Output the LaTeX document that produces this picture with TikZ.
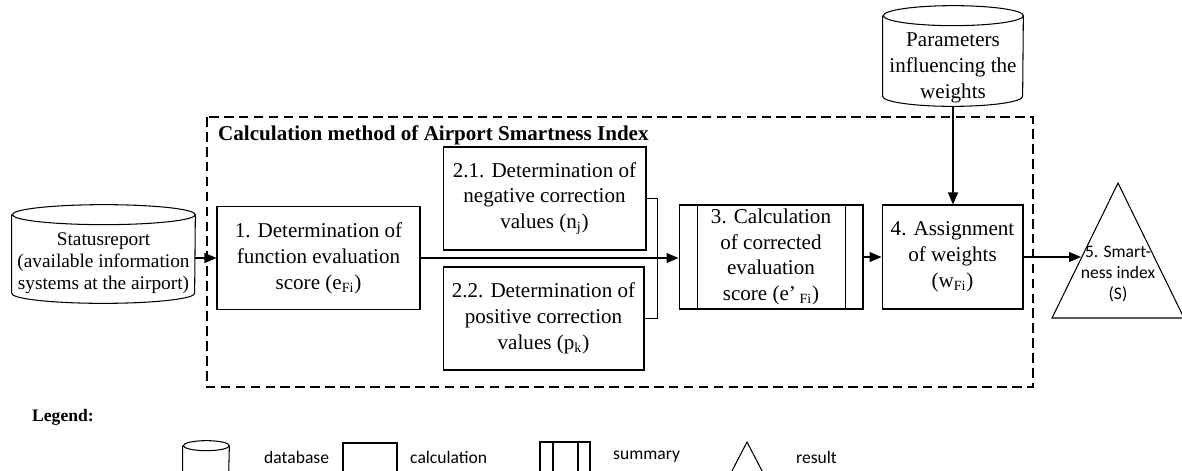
\documentclass[tikz,border=0pt]{standalone}
\usepackage{fontspec}
\setmainfont{Liberation Serif}
\setsansfont{Carlito}
\usetikzlibrary{arrows.meta,positioning,calc}
% outline of a database (cylinder) round a named node
\newcommand{\dbshape}[3]{%
\draw[line width=.6pt] ([yshift=-#3]#1.north west) -- ([yshift=#3]#1.south west)
  arc[start angle=180,end angle=360,x radius=#2,y radius=#3]
  -- ([yshift=-#3]#1.north east)
  arc[start angle=0,end angle=360,x radius=#2,y radius=#3];}

\begin{document}
\begin{tikzpicture}
[x=0.02cm,y=0.02cm,
cbox/.style={draw,line width=.6pt,inner sep=0pt,align=center,
  font=\fontsize{12}{14.7}\selectfont},
db/.style={inner sep=0pt},
dbtext/.style={align=center},
lbl/.style={anchor=west,font=\sffamily\fontsize{10}{12}\selectfont},
arr/.style={line width=.6pt,-{Triangle[length=0.24cm,width=0.2cm]}},
line/.style={line width=.6pt},
frame/.style={line width=.6pt,dash pattern=on 5.5pt off 3pt}]
\useasboundingbox (0,0) rectangle (1182,-470);
%% Method frame
\draw[frame] (207,-117) rectangle (1033,-387);
\node[anchor=west,font=\bfseries\fontsize{12}{14}\selectfont] (title) at (212,-135)
  {Calculation method of Airport Smartness Index};
%% Inputs
% status report
\node[db,minimum width=3.66cm,minimum height=1.96cm] (status) at (103.5,-254) {};
\dbshape{status}{1.83cm}{0.2cm}
\node[dbtext,font=\fontsize{11}{12.5}\selectfont] (statustxt) at (103.5,-263)
  {Statusreport\\(available information\\systems at the airport)};
% parameters
\node[db,minimum width=2.8cm,minimum height=2cm] (params) at (953,-56) {};
\dbshape{params}{1.4cm}{0.2cm}
\node[dbtext,font=\fontsize{12}{14.7}\selectfont] (paramstxt) at (953,-68)
  {Parameters\\influencing the\\weights};
%% Steps
\node[cbox,minimum width=4.06cm,minimum height=2.06cm] (efi) at (318.5,-258)
  {1. Determination of\\function evaluation\\score (e\textsubscript{Fi})};
\node[cbox,minimum width=4.06cm,minimum height=2.06cm] (neg) at (544.5,-198.5)
  {2.1. Determination of\\negative correction\\values (n\textsubscript{j})};
\node[cbox,minimum width=4.02cm,minimum height=2.06cm] (pos) at (543.5,-318.5)
  {2.2. Determination of\\positive correction\\values (p\textsubscript{k})};
\node[cbox,minimum width=3.68cm,minimum height=2.08cm] (corr) at (771,-257)
  {3. Calculation\\of corrected\\evaluation\\score (e'\,\textsubscript{Fi})};
\draw[line] ([xshift=0.38cm]corr.north west) -- ([xshift=0.38cm]corr.south west);
\draw[line] ([xshift=-0.36cm]corr.north east) -- ([xshift=-0.36cm]corr.south east);
\node[cbox,minimum width=2.82cm,minimum height=2.08cm] (wts) at (952.5,-257)
  {4. Assignment\\of weights\\(w\textsubscript{Fi})};
% result
\draw[line] (1052,-318) -- (1118,-183) -- (1184,-318) -- cycle;
\node[align=center,font=\sffamily\fontsize{10}{11.9}\selectfont] (smart) at (1118,-274)
  {5. Smart-\\ness index\\(S)};
\coordinate (smartin) at (1081,-257);
%% Connectors
\draw[arr] (status.east |- efi.west) -- (efi.west);
\draw[arr] (efi.east) -- (efi.east -| corr.west);
\draw[line] (neg.east) -- ++(11,0) |- (pos.east);
\draw[arr] (corr.east |- wts.west) -- (wts.west);
\draw[arr] (params.south) -- (params.south |- wts.north);
\draw[arr] (wts.east) -- (smartin);
%%%%%%%%%%%%%%%%%%%%%%%%%%%%
%% Legend
\node[anchor=west,font=\bfseries\fontsize{10}{12}\selectfont] (legend) at (26,-417) {Legend:};
\node[db,minimum width=0.92cm,minimum height=0.8cm] (ldb) at (206,-461) {};
\dbshape{ldb}{0.46cm}{0.1cm}
\node[lbl] (ldbtxt) at (258,-457) {database};
\draw[line] (343,-443) rectangle (397,-487);
\node[lbl] (lcalc) at (404,-457) {calculation};
\draw[line] (540,-442) rectangle (590,-486);
\draw[line] (553,-442) -- (553,-486);
\draw[line] (578,-442) -- (578,-486);
\node[lbl] (lsum) at (607,-457) {summary};
\draw[line] (747,-442) -- (773,-492) -- (721,-492) -- cycle;
\node[lbl] (lres) at (790,-457) {result};
\end{tikzpicture}
\end{document}
